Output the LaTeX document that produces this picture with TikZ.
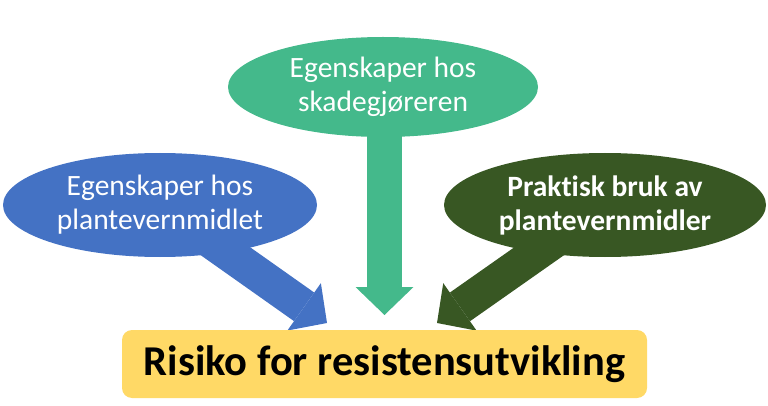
\documentclass[tikz,border=0pt]{standalone}
\usepackage{fontspec}
\setmainfont[Ligatures={NoCommon,NoDiscretionary}]{Carlito}
\usetikzlibrary{shapes.geometric,arrows.meta,backgrounds}
\definecolor{blueA}{HTML}{4472C4}
\definecolor{tealA}{HTML}{44B98B}
\definecolor{darkA}{HTML}{385723}
\definecolor{yellowA}{HTML}{FFD966}
\tikzset{
  oval/.style={ellipse, inner sep=0pt, text=white, align=center,
    font=\fontsize{29.5}{34}\selectfont},
  bigarrow/.style={line width=35pt,
    -{Triangle[length=28pt,width=58pt,line width=0pt]}},
  riskbox/.style={rectangle, rounded corners=10pt, fill=yellowA,
    minimum width=525pt, minimum height=68pt, inner sep=0pt,
    font=\fontsize{42.5}{46}\selectfont\bfseries}
}
\begin{document}
\begin{tikzpicture}[x=1pt,y=-1pt]
\useasboundingbox (0,0) rectangle (768,406);
\node[oval, fill=tealA, minimum width=310pt, minimum height=100pt] (se) at (383,87)
  {Egenskaper hos\\skadegjøreren};
\node[oval, fill=blueA, minimum width=314pt, minimum height=104pt] (pe) at (160,205)
  {Egenskaper hos\\plantevernmidlet};
\node[oval, fill=darkA, minimum width=322pt, minimum height=104pt, font=\fontsize{29.5}{34}\selectfont\bfseries] (pr) at (605,205)
  {Praktisk bruk av\\plantevernmidler};
\node[riskbox] (risk) at (384.5,364) {Risiko for resistensutvikling};
\coordinate (tb) at (327,323);
\coordinate (ts) at (384.5,315);
\coordinate (tr) at (437,323);
\begin{scope}[on background layer]
\draw[bigarrow, color=blueA] (pe.center) -- (tb);
\draw[bigarrow, color=tealA] (se.center -| ts) -- (ts);
\draw[bigarrow, color=darkA] (pr.center) -- (tr);
\end{scope}
\end{tikzpicture}
\end{document}
